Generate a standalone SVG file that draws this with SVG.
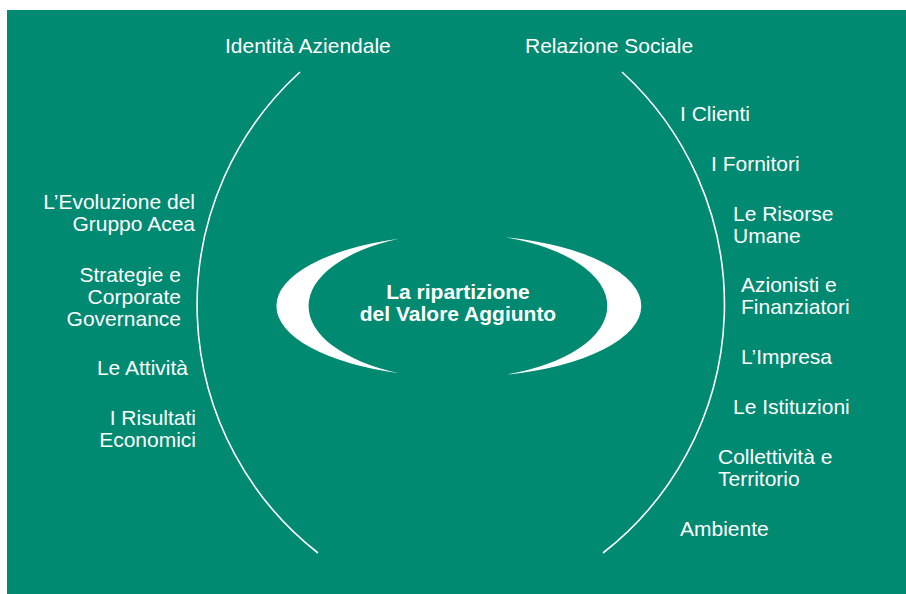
<svg xmlns="http://www.w3.org/2000/svg" width="906" height="594" viewBox="0 0 906 594">
<style>
.t{font-family:"Liberation Sans",Arial,sans-serif;font-size:21px;fill:#ffffff}
.b{font-weight:bold}
.arc{fill:none;stroke:#ffffff;stroke-width:1.6}
.cres{fill:#ffffff}
</style>
<rect x="7" y="10" width="899" height="584" fill="#008A72"/>
<g id="connectors">
<path class="arc" d="M300,72 A315,315 0 0 0 318,553"/>
<path class="arc" d="M622,72 A315,315 0 0 1 603,553"/>
</g>
<g id="center">
<path class="cres" d="M399,238.8 A181,71 0 0 0 399,373.2 A152,73.5 0 0 1 399,238.8 Z"/>
<path class="cres" d="M505,237.2 A181,71 0 0 1 505,374.8 A152,72.8 0 0 0 505,237.2 Z"/>
<text class="t b" x="458" y="298.5" text-anchor="middle">La ripartizione</text>
<text class="t b" x="458" y="320.5" text-anchor="middle">del Valore Aggiunto</text>
</g>
<g id="identita"><text class="t" x="225" y="53">Identità Aziendale</text></g>
<g id="relazione"><text class="t" x="525" y="53">Relazione Sociale</text></g>
<g id="left" class="t" text-anchor="end">
<g id="evoluzione"><text x="195" y="209">L’Evoluzione del</text><text x="195" y="231">Gruppo Acea</text></g>
<g id="strategie"><text x="181" y="281.5">Strategie e</text><text x="181" y="303.5">Corporate</text><text x="181" y="325.5">Governance</text></g>
<g id="attivita"><text x="188" y="375">Le Attività</text></g>
<g id="risultati"><text x="196" y="425">I Risultati</text><text x="196" y="447">Economici</text></g>
</g>
<g id="right" class="t">
<g id="clienti"><text x="680" y="121">I Clienti</text></g>
<g id="fornitori"><text x="711" y="171">I Fornitori</text></g>
<g id="risorse"><text x="733" y="221">Le Risorse</text><text x="733" y="243">Umane</text></g>
<g id="azionisti"><text x="741" y="292">Azionisti e</text><text x="741" y="314">Finanziatori</text></g>
<g id="impresa"><text x="741" y="364">L’Impresa</text></g>
<g id="istituzioni"><text x="733" y="414">Le Istituzioni</text></g>
<g id="collettivita"><text x="718" y="464">Collettività e</text><text x="718" y="486">Territorio</text></g>
<g id="ambiente"><text x="680" y="536">Ambiente</text></g>
</g>
</svg>
